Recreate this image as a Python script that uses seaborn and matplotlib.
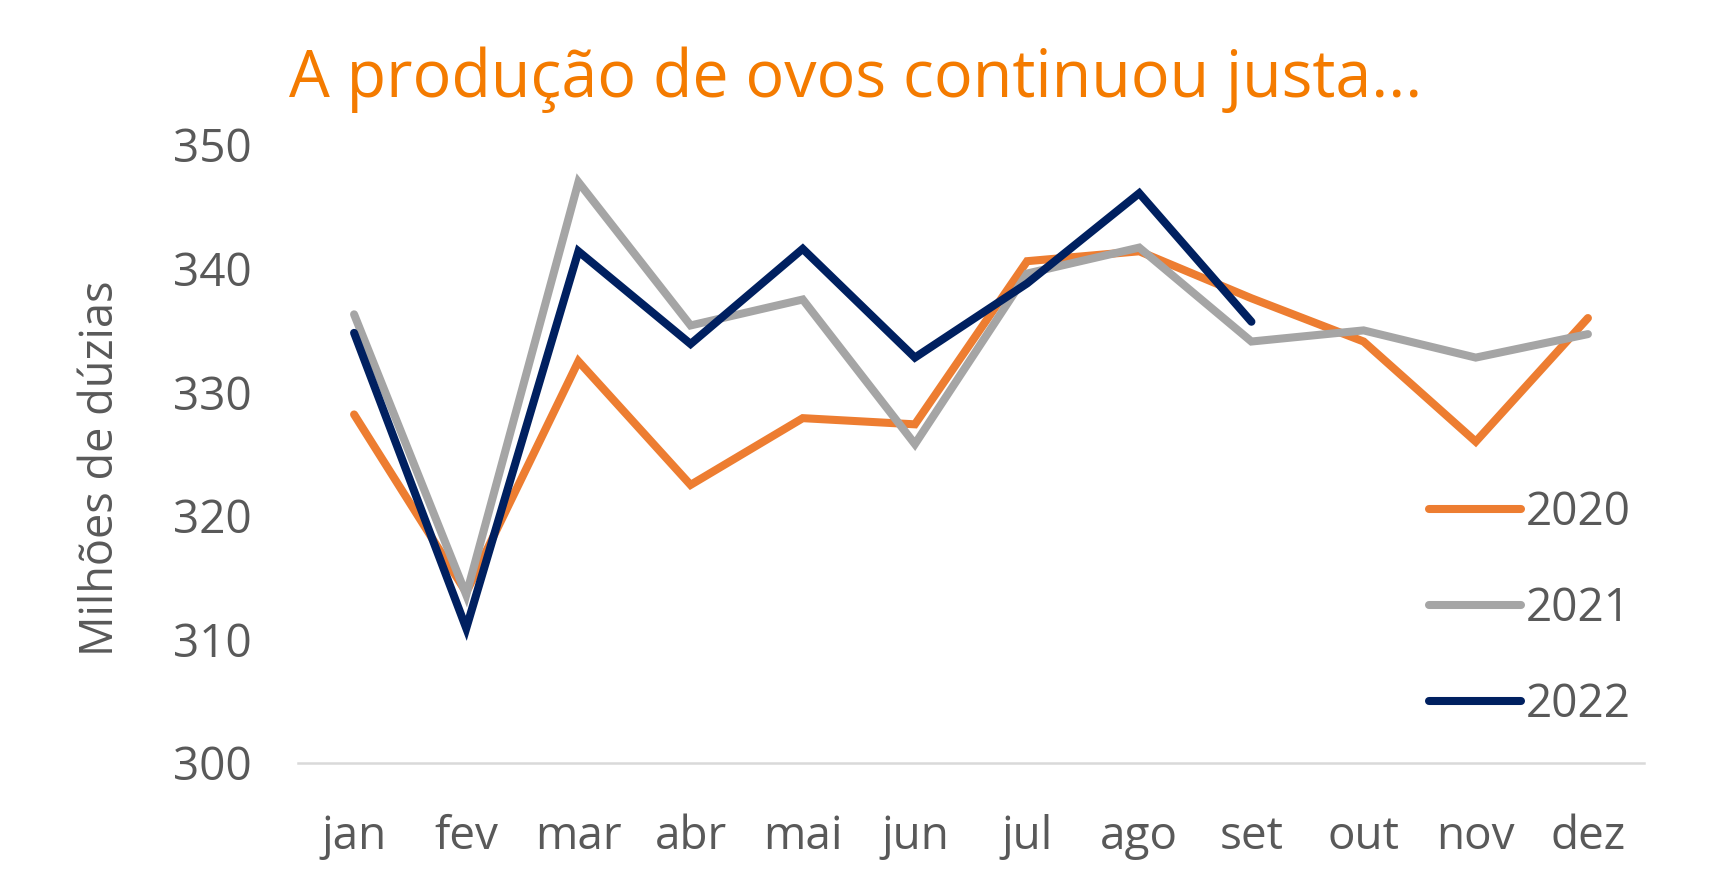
import matplotlib
matplotlib.use("Agg")
import matplotlib.pyplot as plt
import seaborn as sns
import pandas as pd

meses = ["jan", "fev", "mar", "abr", "mai", "jun", "jul", "ago", "set", "out", "nov", "dez"]
v2020 = [328.2, 313.8, 332.5, 322.5, 327.9, 327.4, 340.6, 341.4, 337.6, 334.1, 326.0, 336.0]
v2021 = [336.3, 313.6, 347.0, 335.4, 337.5, 325.8, 339.6, 341.7, 334.1, 335.0, 332.8, 334.7]
v2022 = [334.8, 310.9, 341.4, 333.9, 341.6, 332.8, 338.8, 346.1, 335.7]
anos = ["2020", "2021", "2022"]
cores = ["#ED7D31", "#A5A5A5", "#002060"]
yticks = [300, 310, 320, 330, 340, 350]
titulo = "A produção de ovos continuou justa..."
ylabel = "Milhões de dúzias"

rows = []
for ano, vals in zip(anos, [v2020, v2021, v2022]):
    for i, v in enumerate(vals):
        rows.append({"mes": meses[i], "idx": i, "valor": v, "ano": ano})
df = pd.DataFrame(rows)

sns.set_theme(style="white")
plt.rcParams["font.family"] = ["Open Sans", "DejaVu Sans"]

fig = plt.figure(figsize=(17.27, 8.91), dpi=100)
ax = fig.add_axes([298 / 1727, 1 - 763 / 891, (1644 - 298) / 1727, (763 - 145) / 891])

sns.lineplot(data=df, x="idx", y="valor", hue="ano", palette=dict(zip(anos, cores)),
             linewidth=5.8, sort=False, ax=ax, legend=True)
for ln in ax.get_lines():
    ln.set_solid_capstyle("round")
    ln.set_solid_joinstyle("miter")
    ln.set_clip_on(False)

ax.set_xlim(-0.5, 11.5)
ax.set_ylim(300, 350)
ax.set_xticks(range(12))
ax.set_xticklabels(meses)
ax.set_yticks(yticks)
ax.set_xlabel("")
ax.set_ylabel(ylabel, fontsize=32.5, color="#595959")
ax.yaxis.set_label_coords((101 - 298) / 1346, 0.477)
ax.yaxis.label.set_va("center")
ax.tick_params(axis="both", which="both", length=0, labelsize=33, labelcolor="#595959")
ax.tick_params(axis="y", pad=33)
ax.tick_params(axis="x", pad=37)
for s in ["top", "right", "left"]:
    ax.spines[s].set_visible(False)
ax.spines["bottom"].set_color("#D9D9D9")
ax.spines["bottom"].set_linewidth(1.8)
ax.grid(False)

handles, labels = ax.get_legend_handles_labels()
leg = ax.legend(handles, labels, loc="center left", bbox_to_anchor=(1429 / 1727, 1 - 609 / 891),
                bbox_transform=fig.transFigure, frameon=False, fontsize=33,
                handlelength=2.0, handletextpad=0.1, labelspacing=1.1, borderpad=0,
                borderaxespad=0)
for t in leg.get_texts():
    t.set_color("#595959")
for h in leg.get_lines():
    h.set_linewidth(5.8)
    h.set_solid_capstyle("round")

fig.text(289 / 1727, 1 - 97 / 891, titulo, fontsize=46.5, color="#F47B00", ha="left", va="baseline")

fig.savefig("out.png", dpi=100, facecolor="white")
